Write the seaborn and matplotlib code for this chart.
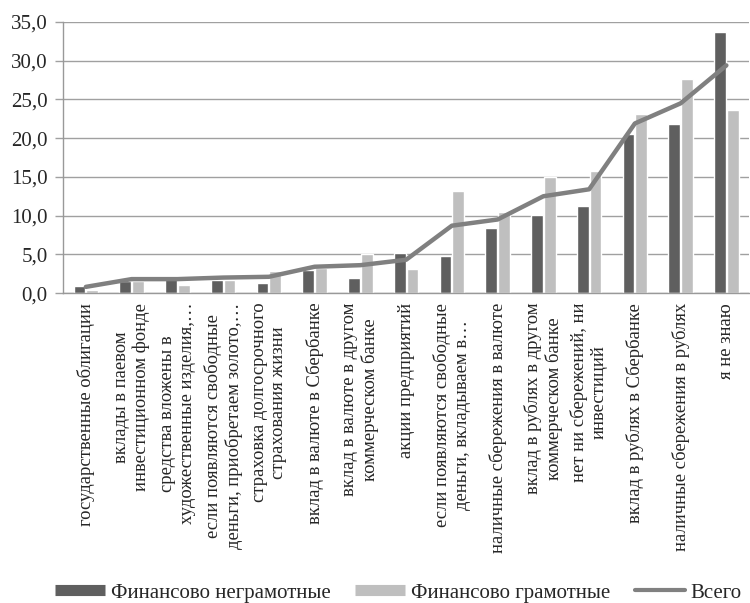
import numpy as np
import pandas as pd
import matplotlib
matplotlib.use("Agg")
import matplotlib.pyplot as plt
import seaborn as sns
from matplotlib.lines import Line2D

categories = [
    "государственные облигации",
    "вклады в паевом\nинвестиционном фонде",
    "средства вложены в\nхудожественные изделия,…",
    "если появляются свободные\nденьги, приобретаем золото,…",
    "страховка долгосрочного\nстрахования жизни",
    "вклад в валюте в Сбербанке",
    "вклад в валюте в другом\nкоммерческом банке",
    "акции предприятий",
    "если появляются свободные\nденьги, вкладываем в…",
    "наличные сбережения в валюте",
    "вклад в рублях в другом\nкоммерческом банке",
    "нет ни сбережений, ни\nинвестиций",
    "вклад в рублях в Сбербанке",
    "наличные сбережения в рублях",
    "я не знаю",
]
illiterate = [0.9, 1.5, 2.0, 1.7, 1.3, 3.0, 2.0, 5.2, 4.8, 8.4, 10.1, 11.3, 20.6, 21.8, 33.7]
literate = [0.4, 1.5, 1.1, 1.7, 2.9, 3.3, 5.0, 3.1, 13.2, 10.5, 15.0, 15.7, 23.1, 27.6, 23.7]
total = [0.8, 1.8, 1.8, 2.0, 2.1, 3.4, 3.6, 4.3, 8.7, 9.5, 12.5, 13.4, 21.9, 24.5, 29.4]
series = ["Финансово неграмотные", "Финансово грамотные"]

df = pd.DataFrame({
    "cat": categories * 2,
    "value": illiterate + literate,
    "group": [series[0]] * len(categories) + [series[1]] * len(categories),
})

sns.set_theme(style="white")
plt.rcParams["font.family"] = ["Liberation Serif", "DejaVu Serif"]

dark = "#5f5f5f"
light = "#bfbfbf"
linec = "#808080"

fig = plt.figure(figsize=(7.5, 6.03), dpi=100)
ax = fig.add_axes([0.084, 0.514, 0.915, 0.4495])

sns.barplot(data=df, x="cat", y="value", hue="group", palette=[dark, light],
            width=0.56, gap=0.08, ax=ax, legend=False, saturation=1)
ax.plot(np.arange(len(categories)), total, color=linec, lw=3.2, solid_capstyle="round")

ax.set_ylim(0, 35)
ax.set_xlim(-0.5, len(categories) - 0.5)
ax.set_yticks(np.arange(0, 36, 5))
ax.set_yticklabels([f"{v:.1f}".replace(".", ",") for v in np.arange(0, 36, 5)], fontsize=15)
ax.yaxis.grid(True, color="#a0a0a0", lw=1)
ax.set_axisbelow(True)
ax.set_xlabel("")
ax.set_ylabel("")

ax.set_xticks(np.arange(len(categories)))
ax.set_xticklabels(categories, rotation=90, ha="center", va="top",
                   multialignment="center", fontsize=13.4)
ax.set_xticks(np.arange(len(categories) + 1) - 0.5, minor=True)
ax.tick_params(axis="x", which="major", length=0, pad=7)
ax.tick_params(axis="x", which="minor", length=5, color="#888888", width=1, direction="out")
ax.tick_params(axis="y", length=6, color="#a0a0a0", width=1, pad=5, left=True)

for s in ["top", "right"]:
    ax.spines[s].set_visible(False)
for s in ["left", "bottom"]:
    ax.spines[s].set_color("#999999")
    ax.spines[s].set_linewidth(1)

handles = [
    Line2D([0], [0], color=dark, lw=8, solid_capstyle="butt"),
    Line2D([0], [0], color=light, lw=8, solid_capstyle="butt"),
    Line2D([0], [0], color=linec, lw=3),
]
fig.legend(handles, series + ["Всего"], loc="center", ncol=3,
           bbox_to_anchor=(0.531, 0.0166), frameon=False, fontsize=15,
           handlelength=2.4, handletextpad=0.25, columnspacing=1.2,
           borderaxespad=0, borderpad=0)

fig.savefig("out.png", dpi=100)
